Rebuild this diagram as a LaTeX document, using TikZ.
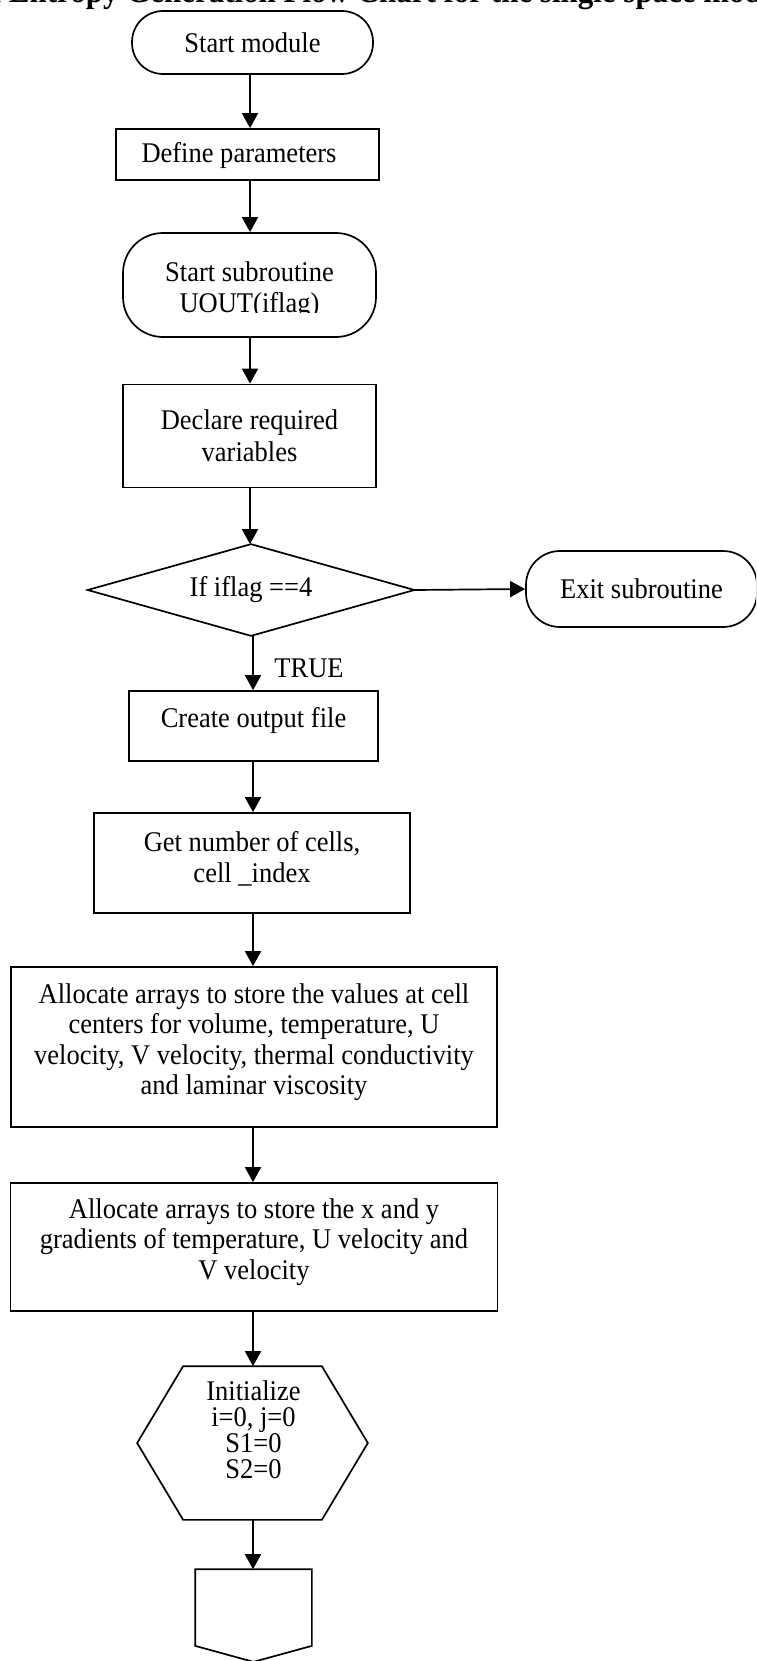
\documentclass[tikz,border=0pt]{standalone}
\usepackage{fontspec}
\setmainfont{Liberation Serif}[FakeStretch=0.93]
\usetikzlibrary{arrows.meta,calc}

\begin{document}
\begin{tikzpicture}[x=1pt,y=-1pt,
  line width=1.7pt,
  every node/.style={font=\fontsize{28.5}{30.5}\selectfont, inner sep=0pt},
  box/.style={draw, rectangle, align=center},
  term/.style={draw, rectangle, align=center},
  txt/.style={align=center},
  arr/.style={-{Triangle[length=15pt,width=16pt]}},
]
\useasboundingbox (0,0) rectangle (756,1661);
\clip (0,0) rectangle (756,1661);

% heading (only its lower edge falls inside the page)
\node[anchor=south west, font=\bfseries\fontsize{33.3}{38}\selectfont] (title) at (-73.6,11)
  {Local Entropy Generation Flow Chart for the single space model};

% columns used by the vertical connectors
\coordinate (colA) at (250,0);
\coordinate (colB) at (253,0);

% terminals and process boxes
\node[term, rounded corners=31pt, minimum width=241pt, minimum height=63pt] (start) at (252.5,42.5) {Start module};

\node[box, minimum width=263pt, minimum height=51pt] (param) at (247.5,154.5) {};
\node[txt] (param-t) at (239,156) {Define parameters};

\node[term, rounded corners=40pt, minimum width=253pt, minimum height=104pt] (sub) at (249.5,285) {};
\begin{scope}
  \clip (120,240) rectangle (380,313);
  \node[txt] (sub-t) at (249.5,290) {Start subroutine\\UOUT(iflag)};
\end{scope}

\node[box, minimum width=253pt, minimum height=103pt, font=\fontsize{28.5}{32}\selectfont] (decl) at (249.5,436) {Declare required\\variables};

% decision and exit
\node[minimum width=325pt, minimum height=90pt] (cond) at (251,590) {If iflag ==4};
\draw (cond.north) -- (cond.east) -- (cond.south) -- (cond.west) -- cycle;
\node[term, rounded corners=34pt, minimum width=231pt, minimum height=76pt] (exit) at (641.5,589) {Exit subroutine};
\node (true) at (309,668) {TRUE};

% boxes whose text sits above the middle
\node[box, minimum width=249pt, minimum height=70pt] (create) at (253.5,726) {};
\node[txt] (create-t) at (253.5,720) {Create output file};

\node[box, minimum width=316pt, minimum height=100pt] (cells) at (252,863) {};
\node[txt] (cells-t) at (252,859) {Get number of cells,\\cell \_index};

\node[box, minimum width=486pt, minimum height=160pt] (alloc1) at (254,1047) {};
\node[txt] (alloc1-t) at (254,1042) {Allocate arrays to store the values at cell\\
  centers for volume, temperature, U\\velocity, V velocity, thermal conductivity\\
  and laminar viscosity};

\node[box, minimum width=487pt, minimum height=128pt] (alloc2) at (254,1247) {};
\node[txt] (alloc2-t) at (254,1242) {Allocate arrays to store the x and y\\
  gradients of temperature, U velocity and\\V velocity};

% initialisation hexagon
\node[minimum width=229pt, minimum height=152pt] (hex) at (252.5,1443) {};
\draw ($(hex.north west)+(46,0)$) -- ($(hex.north east)+(-46,0)$) -- (hex.east)
  -- ($(hex.south east)+(-46,0)$) -- ($(hex.south west)+(46,0)$) -- (hex.west) -- cycle;
\node[txt, font=\fontsize{28.5}{26}\selectfont] (hex-t) at (253.5,1430) {Initialize\\i=0, j=0\\S1=0\\S2=0};

% off-page connector
\node[minimum width=115pt, minimum height=91pt] (page) at (253.5,1615.5) {};
\draw (page.north west) -- (page.north east) -- ($(page.south east)+(0,-16)$)
  -- (page.south) -- ($(page.south west)+(0,-16)$) -- cycle;

% connectors
\draw[arr] (start.south -| colA) -- (param.north -| colA);
\draw[arr] (param.south -| colA) -- (sub.north -| colA);
\draw[arr] (sub.south -| colA) -- (decl.north -| colA);
\draw[arr] (decl.south -| colA) -- (cond.north -| colA);
\draw[arr] (cond.east) -- (exit.west);
\draw[arr] (cond.south -| colB) -- (create.north -| colB);
\draw[arr] (create.south -| colB) -- (cells.north -| colB);
\draw[arr] (cells.south -| colB) -- (alloc1.north -| colB);
\draw[arr] (alloc1.south -| colB) -- (alloc2.north -| colB);
\draw[arr] (alloc2.south -| colB) -- (hex.north -| colB);
\draw[arr] (hex.south -| colB) -- (page.north -| colB);
\end{tikzpicture}
\end{document}
